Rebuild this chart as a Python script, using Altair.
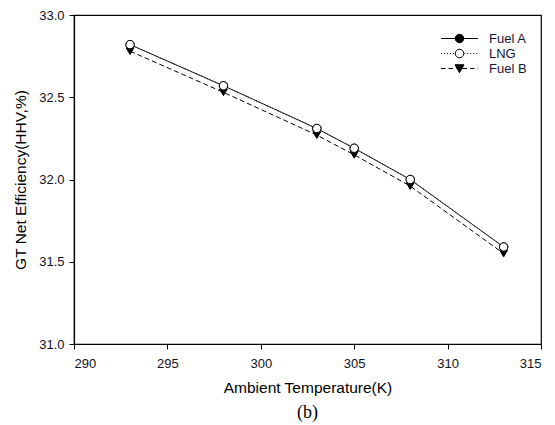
import altair as alt
import pandas as pd

# ---- data ----
temps = [293, 298, 303, 305, 308, 313]
fuel_a = [32.82, 32.57, 32.31, 32.19, 32.00, 31.59]
lng = [32.82, 32.57, 32.31, 32.19, 32.00, 31.59]
fuel_b = [32.78, 32.53, 32.27, 32.15, 31.96, 31.55]
series_names = ["Fuel A", "LNG", "Fuel B"]

rows = []
for name, vals in zip(series_names, [fuel_a, lng, fuel_b]):
    for t, v in zip(temps, vals):
        rows.append({"T": t, "eff": v, "series": name})
df = pd.DataFrame(rows)

FONT = "Liberation Sans"


def dash_path(x0, x1, dash, gap):
    """Line made of dash segments (legend glyph styling)."""
    parts = []
    x = x0
    while x < x1:
        e = min(x + dash, x1)
        parts.append(f"M{x:.2f},0L{e:.2f},0")
        x = e + gap
    return "".join(parts)


circ = "M0.85,0A0.85,0.85,0,1,1,-0.85,0A0.85,0.85,0,1,1,0.85,0Z"
tri = "M-0.9,-0.75L0.9,-0.75L0,0.85Z"
sym_a = dash_path(-3.7, -0.85, 10, 0) + dash_path(0.85, 3.7, 10, 0) + circ
sym_lng = dash_path(-3.7, -0.85, 0.2, 0.4) + dash_path(0.95, 3.7, 0.2, 0.4) + circ
sym_b = dash_path(-3.7, -0.6, 0.9, 0.6) + dash_path(0.6, 3.7, 0.9, 0.6) + tri

xscale = alt.Scale(domain=[290, 315], nice=False, zero=False)
yscale = alt.Scale(domain=[31.0, 33.0], nice=False, zero=False)

xenc = alt.X("T:Q", scale=xscale,
             axis=alt.Axis(values=[290, 295, 300, 305, 310, 315], format="d",
                           title="Ambient Temperature(K)"))
yenc = alt.Y("eff:Q", scale=yscale,
             axis=alt.Axis(values=[31.0, 31.5, 32.0, 32.5, 33.0], format=".1f",
                           title="GT Net Efficiency(HHV,%)"))

base = alt.Chart(df).encode(x=xenc, y=yenc)

dashes = {"Fuel A": [1, 0], "LNG": [1, 2], "Fuel B": [5, 3]}
layers = []
for name in series_names:
    layers.append(
        base.transform_filter(alt.datum.series == name)
        .mark_line(color="black", strokeWidth=1, strokeDash=dashes[name])
    )

pt_a = base.transform_filter(alt.datum.series == "Fuel A").mark_point(
    shape="circle", size=70, fill="black", stroke="black", strokeWidth=1, opacity=1)
pt_b = base.transform_filter(alt.datum.series == "Fuel B").mark_point(
    shape="triangle-down", size=60, fill="black", stroke="black", strokeWidth=1, opacity=1)
pt_lng = base.transform_filter(alt.datum.series == "LNG").mark_point(
    shape="circle", size=70, fill="white", stroke="black", strokeWidth=1, opacity=1)

leg = dict(title=None, orient="none", legendX=379, legendY=17,
           symbolSize=100, symbolStrokeWidth=1,
           labelOffset=23, rowPadding=1,
           labelFont=FONT, labelFontSize=13,
           labelColor="#151535", padding=0)

legend_layer = base.transform_filter("false").mark_point(
    stroke="black", strokeWidth=1, opacity=1, size=100
).encode(
    shape=alt.Shape("series:N",
                    scale=alt.Scale(domain=series_names, range=[sym_a, sym_lng, sym_b]),
                    legend=alt.Legend(**leg)),
    fill=alt.Fill("series:N",
                  scale=alt.Scale(domain=series_names, range=["black", "white", "black"]),
                  legend=alt.Legend(**leg)),
)

chart = alt.layer(*layers, pt_b, pt_a, pt_lng, legend_layer).properties(
    width=467,
    height=329,
    padding={"left": 74, "top": 15, "right": 14, "bottom": 81},
    autosize=alt.AutoSizeParams(type="none"),
    title=alt.TitleParams("(b)", orient="bottom", font="Liberation Serif",
                          fontSize=18, fontWeight="normal", color="black", offset=8),
).configure_view(
    stroke="black", strokeWidth=1.2
).configure_axis(
    grid=False, domainColor="black", tickColor="black", tickSize=5,
    labelFont=FONT, labelFontSize=13, labelColor="#111122",
    titleFont=FONT, titleFontSize=15.5, titleFontWeight="normal", titleColor="black",
    domainWidth=1.2, tickWidth=1,
).configure_axisX(
    labelPadding=8, titlePadding=10
).configure_axisY(
    labelPadding=5, titlePadding=10
)

chart.save("out.html", embed_options={"renderer": "svg", "actions": False})
